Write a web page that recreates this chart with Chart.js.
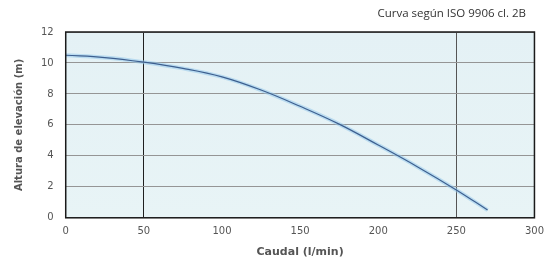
<!DOCTYPE html>
<html>
<head>
<meta charset="utf-8">
<script src="https://cdn.jsdelivr.net/npm/chart.js@4"></script>
<style>
  html, body { margin: 0; padding: 0; background: #fff; }
  #wrap { width: 552px; height: 262px; }
</style>
</head>
<body>
<div id="wrap"><canvas id="curva"></canvas></div>
<script>
// datos
const caudal = [0, 25, 50, 75, 100, 125, 150, 175, 200, 225, 250, 270];
const altura = [10.5, 10.35, 10.05, 9.65, 9.1, 8.25, 7.2, 6.05, 4.7, 3.3, 1.8, 0.5];
const ticksX = [0, 50, 100, 150, 200, 250, 300];
const ticksY = [0, 2, 4, 6, 8, 10, 12];
const titulo = "Curva según ISO 9906 cl. 2B";

const puntos = caudal.map(function (q, i) { return { x: q, y: altura[i] }; });

// fondo azul claro, marco negro y texto de la norma
const fondo = {
  id: "fondo",
  beforeDraw: function (chart) {
    const a = chart.chartArea;
    const ctx = chart.ctx;
    const g = ctx.createLinearGradient(0, a.top, 0, a.bottom);
    g.addColorStop(0, "#e4f1f5");
    g.addColorStop(1, "#e8f4f6");
    ctx.save();
    ctx.fillStyle = g;
    ctx.fillRect(a.left, a.top, a.right - a.left, a.bottom - a.top);
    ctx.restore();
  },
  afterDraw: function (chart) {
    const a = chart.chartArea;
    const ctx = chart.ctx;
    ctx.save();
    ctx.strokeStyle = "#1a1a1a";
    ctx.lineWidth = 1.5;
    ctx.strokeRect(a.left, a.top, a.right - a.left, a.bottom - a.top);
    ctx.fillStyle = "#333";
    ctx.font = "11.5px 'Open Sans'";
    ctx.textAlign = "right";
    ctx.textBaseline = "middle";
    ctx.fillText(titulo, chart.width - 26, 14);
    ctx.restore();
  }
};

new Chart(document.getElementById("curva"), {
  type: "line",
  data: {
    datasets: [
      {
        data: puntos,
        borderColor: "#3d5f8f",
        borderWidth: 1.2,
        pointRadius: 0,
        tension: 0.4,
        fill: false
      },
      {
        data: puntos,
        borderColor: "rgba(150, 200, 235, 0.55)",
        borderWidth: 4,
        pointRadius: 0,
        tension: 0.4,
        fill: false
      }
    ]
  },
  options: {
    responsive: true,
    maintainAspectRatio: false,
    animation: false,
    layout: { padding: { left: 13, right: 4, top: 32, bottom: 3 } },
    plugins: {
      legend: { display: false },
      tooltip: { enabled: false },
      title: { display: false }
    },
    scales: {
      x: {
        type: "linear",
        min: 0,
        max: 300,
        afterBuildTicks: function (axis) {
          axis.ticks = ticksX.map(function (v) { return { value: v }; });
        },
        grid: {
          color: function (c) {
            if (c.tick.value === 50) return "#1f1f1f";
            if (c.tick.value === 250) return "#555";
            return "rgba(0,0,0,0)";
          },
          lineWidth: 1,
          drawTicks: false
        },
        border: { display: false },
        ticks: {
          color: "#555",
          font: { family: "DejaVu Sans", size: 10 },
          padding: 8
        },
        title: {
          display: true,
          text: "Caudal (l/min)",
          color: "#555",
          font: { family: "DejaVu Sans", size: 11, weight: "bold" },
          padding: { top: 0, bottom: 0 }
        }
      },
      y: {
        min: 0,
        max: 12,
        afterBuildTicks: function (axis) {
          axis.ticks = ticksY.map(function (v) { return { value: v }; });
        },
        grid: {
          color: "#959595",
          lineWidth: 1,
          drawTicks: false
        },
        border: { display: false },
        ticks: {
          color: "#555",
          font: { family: "DejaVu Sans", size: 10 },
          padding: 12
        },
        title: {
          display: true,
          text: "Altura de elevación (m)",
          color: "#555",
          font: { family: "DejaVu Sans", size: 10, weight: "bold" },
          padding: { top: 0, bottom: 4 }
        }
      }
    }
  },
  plugins: [fondo]
});
</script>
</body>
</html>
